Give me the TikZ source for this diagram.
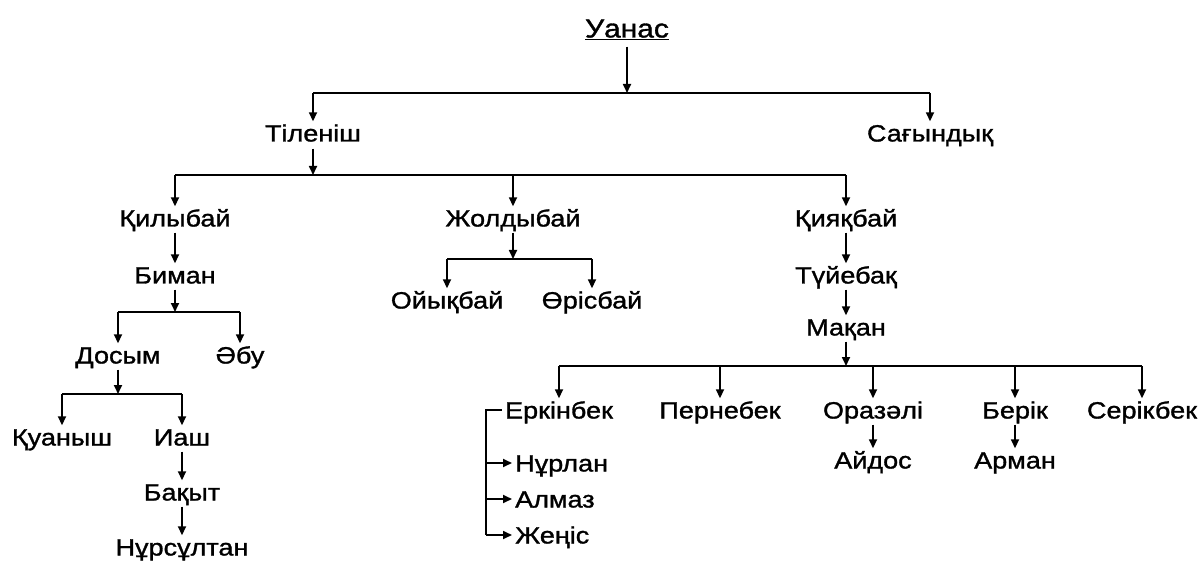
\documentclass[tikz,border=0pt]{standalone}
\usepackage{fontspec}
\setmainfont[FakeStretch=1.15,FakeBold=1.3]{Liberation Sans}
\usetikzlibrary{arrows.meta}
\begin{document}
\begin{tikzpicture}[x=1pt,y=-1pt,
  nm/.style={inner sep=3pt,text height=17pt,text depth=0pt,font=\fontsize{23.5}{26}\selectfont},
  ln/.style={line width=1.7pt},
  arr/.style={line width=1.7pt,-{Triangle[length=9pt,width=8pt]}}]
\useasboundingbox (0,0) rectangle (1204,561);
% nodes
\node[nm,text height=19pt,font=\fontsize{26}{28}\selectfont] (u) at (627,28) {\underline{Уанас}};
\node[nm] (t) at (313,133) {Тіленіш};
\node[nm] (s) at (930,133) {Сағындық};
\node[nm] (q1) at (175,218) {Қилыбай};
\node[nm] (zh) at (513,218) {Жолдыбай};
\node[nm] (q2) at (846,218) {Қияқбай};
\node[nm] (b) at (175,275) {Биман};
\node[nm] (ty) at (846,275) {Түйебақ};
\node[nm] (oy) at (447,300) {Ойықбай};
\node[nm] (or) at (592,300) {Өрісбай};
\node[nm] (m) at (846,327) {Мақан};
\node[nm] (d) at (118,355) {Досым};
\node[nm] (ab) at (240,355) {Әбу};
\node[nm] (kua) at (62,437) {Қуаныш};
\node[nm] (ia) at (182,437) {Иаш};
\node[nm] (ba) at (182,492) {Бақыт};
\node[nm] (nu) at (182,547) {Нұрсұлтан};
\node[nm] (er) at (559,410) {Еркінбек};
\node[nm] (pe) at (720,410) {Пернебек};
\node[nm] (oz) at (873,410) {Оразәлі};
\node[nm] (be) at (1015,410) {Берік};
\node[nm] (se) at (1142,410) {Серікбек};
\node[nm] (ay) at (873,460) {Айдос};
\node[nm] (ar) at (1015,460) {Арман};
\node[nm,anchor=west] (nr) at (512,463) {Нұрлан};
\node[nm,anchor=west] (al) at (512,499) {Алмаз};
\node[nm,anchor=west] (zhe) at (512,535) {Жеңіс};
% junction coordinates
\coordinate (j0) at (627,93);
\coordinate (j1) at (313,175);
\coordinate (j2) at (175,312);
\coordinate (j3) at (118,394);
\coordinate (j4) at (513,259);
\coordinate (j5) at (846,366);
\coordinate (e0) at (486,410);
% Уанас
\draw[arr] ([yshift=-6pt]u.south) -- (j0);
\draw[ln] (t |- j0) -- (s |- j0);
\draw[arr] (t |- j0) -- (t.north);
\draw[arr] (s |- j0) -- (s.north);
% Тіленіш
\draw[arr] ([yshift=-4pt]t.south) -- (j1);
\draw[ln] (q1 |- j1) -- (q2 |- j1);
\draw[arr] (q1 |- j1) -- (q1.north);
\draw[arr] (zh |- j1) -- (zh.north);
\draw[arr] (q2 |- j1) -- (q2.north);
% Қилыбай branch
\draw[arr] ([yshift=-3pt]q1.south) -- (b.north);
\draw[arr] ([yshift=-3pt]b.south) -- (j2);
\draw[ln] (d |- j2) -- (ab |- j2);
\draw[arr] (d |- j2) -- (d.north);
\draw[arr] (ab |- j2) -- (ab.north);
\draw[arr] ([yshift=-3pt]d.south) -- (j3);
\draw[ln] (kua |- j3) -- (ia |- j3);
\draw[arr] (kua |- j3) -- (kua.north);
\draw[arr] (ia |- j3) -- (ia.north);
\draw[arr] ([yshift=-3pt]ia.south) -- (ba.north);
\draw[arr] ([yshift=-3pt]ba.south) -- (nu.north);
% Жолдыбай branch
\draw[arr] ([yshift=-3pt]zh.south) -- (j4);
\draw[ln] (oy |- j4) -- (or |- j4);
\draw[arr] (oy |- j4) -- (oy.north);
\draw[arr] (or |- j4) -- (or.north);
% Қияқбай branch
\draw[arr] ([yshift=-3pt]q2.south) -- (ty.north);
\draw[arr] ([yshift=-3pt]ty.south) -- (m.north);
\draw[arr] ([yshift=-3pt]m.south) -- (j5);
\draw[ln] (er |- j5) -- (se |- j5);
\draw[arr] (er |- j5) -- (er.north);
\draw[arr] (pe |- j5) -- (pe.north);
\draw[arr] (oz |- j5) -- (oz.north);
\draw[arr] (be |- j5) -- (be.north);
\draw[arr] (se |- j5) -- (se.north);
\draw[arr] ([yshift=-3pt]oz.south) -- (ay.north);
\draw[arr] ([yshift=-3pt]be.south) -- (ar.north);
% Еркінбек bracket
\draw[ln] (er.west) -- (e0) -- (e0 |- zhe);
\draw[arr] (e0 |- nr) -- (nr.west);
\draw[arr] (e0 |- al) -- (al.west);
\draw[arr] (e0 |- zhe) -- (zhe.west);
\end{tikzpicture}
\end{document}
